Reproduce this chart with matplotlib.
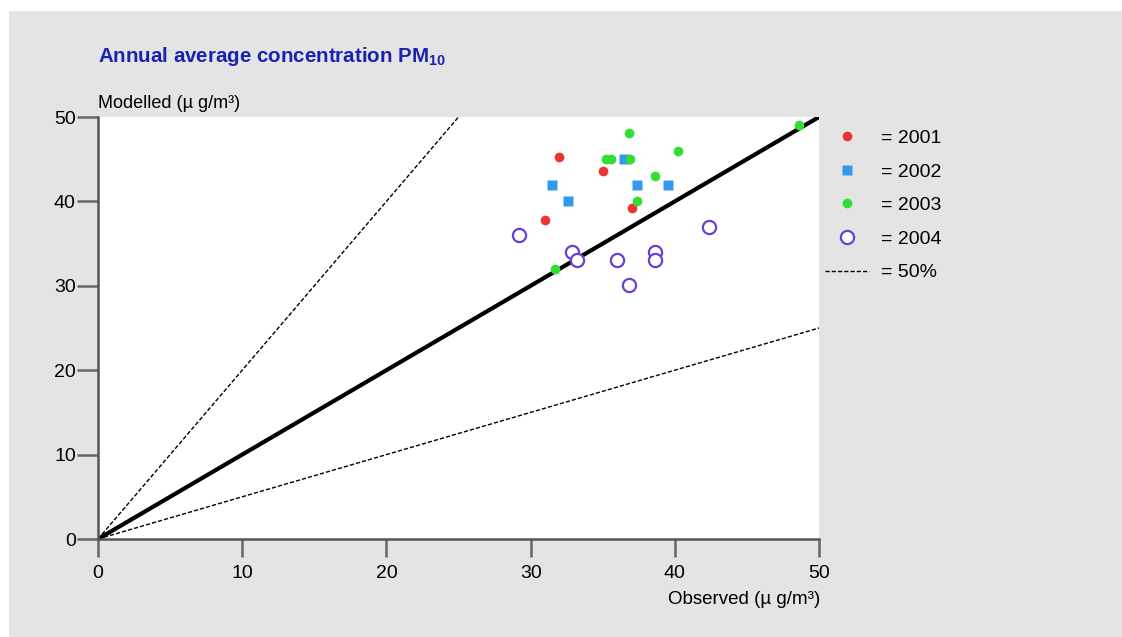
import matplotlib
matplotlib.use('Agg')
import matplotlib.pyplot as plt
from matplotlib.patches import Rectangle
from matplotlib.lines import Line2D

plt.rcParams['font.family'] = ['Liberation Sans', 'DejaVu Sans']

# observed / modelled values per year
obs_2001 = [32.0, 35.0, 37.0, 31.0]
mod_2001 = [45.3, 43.6, 39.2, 37.8]
obs_2002 = [31.5, 32.6, 36.5, 37.4, 39.5]
mod_2002 = [42.0, 40.0, 45.0, 42.0, 42.0]
obs_2003 = [36.8, 35.2, 35.6, 36.9, 40.2, 38.6, 37.4, 31.7, 48.6]
mod_2003 = [48.1, 45.0, 45.0, 45.0, 46.0, 43.0, 40.0, 32.0, 49.0]
obs_2004 = [29.2, 42.4, 32.9, 33.2, 36.0, 38.6, 38.6, 36.8]
mod_2004 = [36.0, 37.0, 34.0, 33.0, 33.0, 34.0, 33.0, 30.1]
ticks = [0, 10, 20, 30, 40, 50]

fig = plt.figure(figsize=(11.22, 6.37), dpi=100)
fig.patch.set_facecolor('white')
fig.add_artist(Rectangle((9 / 1122, 0), 1, 1 - 11 / 637, transform=fig.transFigure,
                         facecolor='#e4e4e4', edgecolor='none', zorder=-10))

ax = fig.add_axes([98 / 1122, 1 - 539 / 637, (819 - 98) / 1122, (539 - 117) / 637])
ax.set_facecolor('white')
ax.set_xlim(0, 50)
ax.set_ylim(0, 50)

# 1:1 and factor-2 lines
ax.plot([0, 50], [0, 50], color='black', lw=3, zorder=2)
ax.plot([0, 25], [0, 50], color='black', lw=1, ls=(0, (3, 1.5)), zorder=2)
ax.plot([0, 50], [0, 25], color='black', lw=1, ls=(0, (3, 1.5)), zorder=2)

ax.plot(obs_2001, mod_2001, 'o', color='#ee3333', ms=7, mec='none', zorder=3)
ax.plot(obs_2002, mod_2002, 's', color='#3399ee', ms=7, mec='none', zorder=3)
ax.plot(obs_2003, mod_2003, 'o', color='#33dd33', ms=7, mec='none', zorder=3)
ax.plot(obs_2004, mod_2004, 'o', mfc='white', mec='#6a3fd6', mew=1.6, ms=9.5, zorder=3)

for s in ['top', 'right']:
    ax.spines[s].set_visible(False)
for s in ['left', 'bottom']:
    ax.spines[s].set_color('#555555')
    ax.spines[s].set_linewidth(1.8)
ax.set_xticks(ticks)
ax.set_yticks(ticks)
ax.tick_params(axis='y', length=15, width=1.8, color='#666666', labelsize=14, pad=1)
ax.tick_params(axis='x', length=13, width=1.8, color='#666666', labelsize=14, pad=6)

fig.text(98 / 1122, 1 - 103 / 637, 'Modelled (µ g/m³)', fontsize=13, ha='left', va='center')
fig.text(820 / 1122, 1 - 599 / 637, 'Observed (µ g/m³)', fontsize=13.5, ha='right', va='center')
fig.text(98 / 1122, 1 - 56 / 637, r'Annual average concentration PM$_{\mathregular{10}}$',
         fontsize=14.8, fontweight='bold', color='#1a22b0', ha='left', va='center')

handles = [
    Line2D([], [], ls='none', marker='o', color='#ee3333', ms=7, mec='none'),
    Line2D([], [], ls='none', marker='s', color='#3399ee', ms=7, mec='none'),
    Line2D([], [], ls='none', marker='o', color='#33dd33', ms=7, mec='none'),
    Line2D([], [], ls='none', marker='o', mfc='white', mec='#6a3fd6', mew=1.6, ms=9.5),
    Line2D([], [], color='black', lw=1, ls=(0, (3, 1.5))),
]
labels = ['= 2001', '= 2002', '= 2003', '= 2004', '= 50%']
fig.legend(handles, labels, loc='upper left', bbox_to_anchor=(807 / 1122, 1 - 112 / 637),
           frameon=False, fontsize=14, handlelength=2.3, handletextpad=0.6, labelspacing=0.82)

fig.savefig('out.png', dpi=100)
